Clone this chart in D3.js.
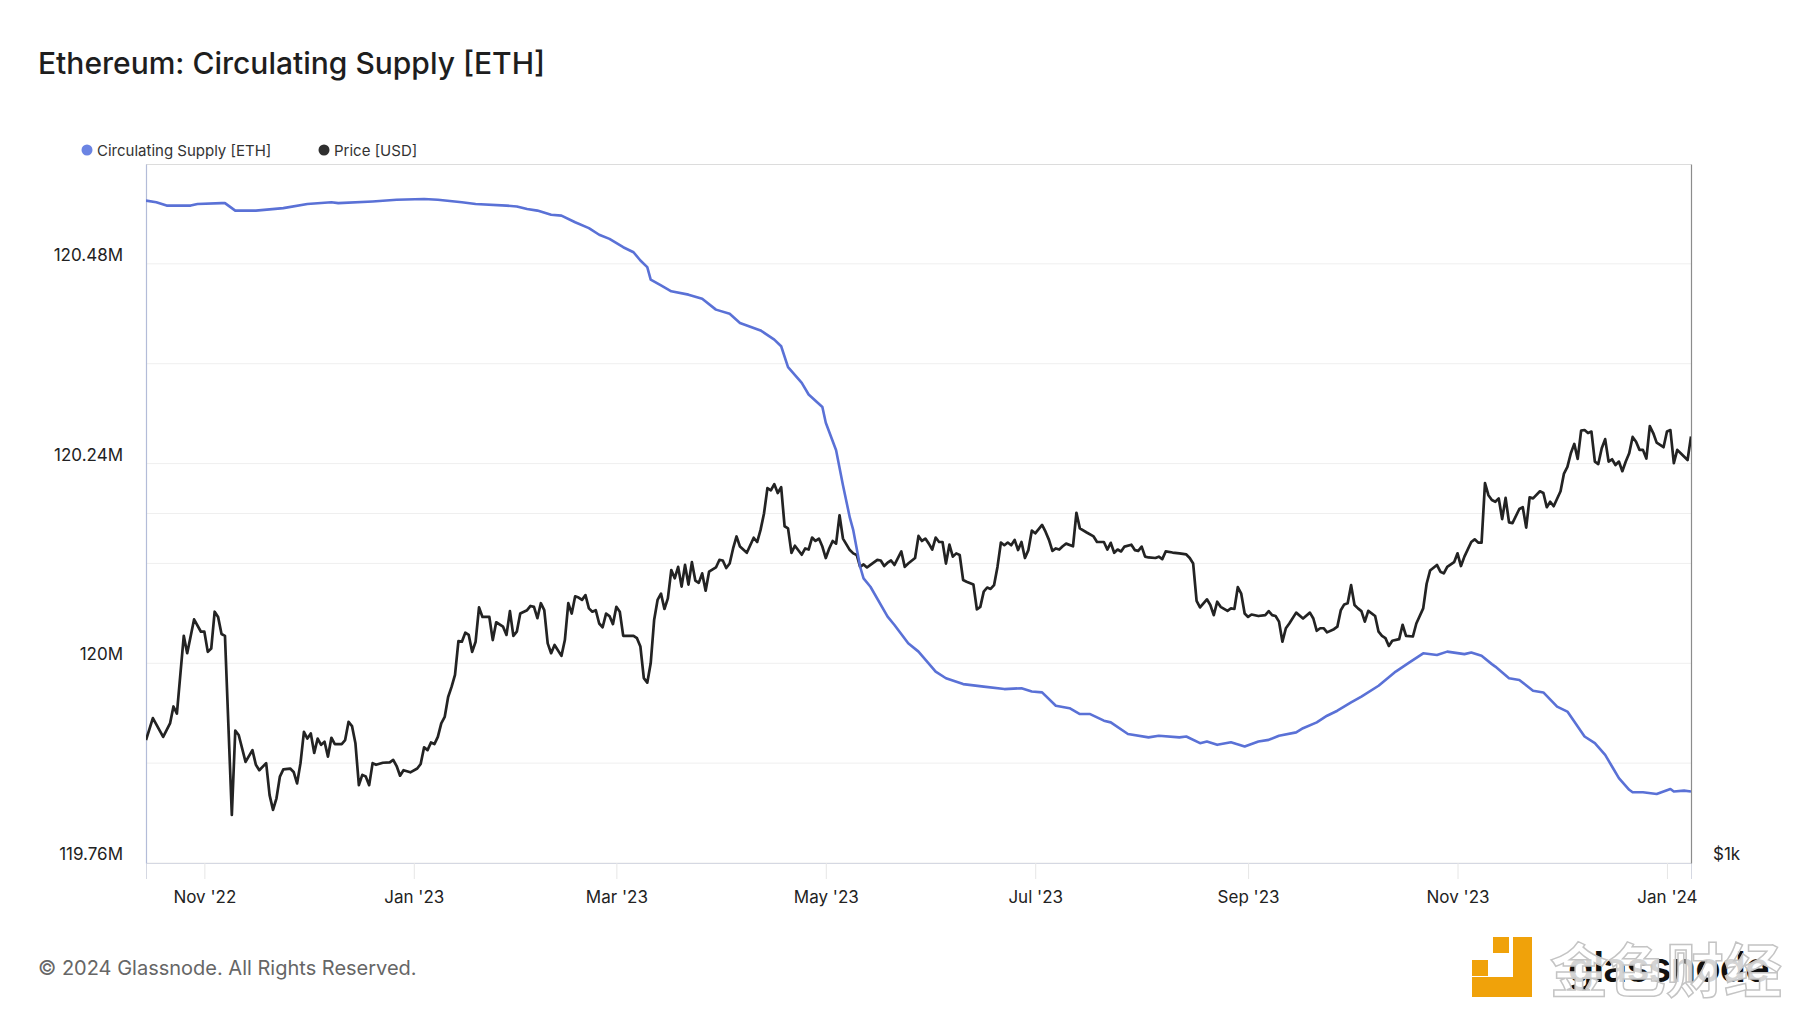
<!DOCTYPE html>
<html>
<head>
<meta charset="utf-8">
<script src="https://cdn.jsdelivr.net/npm/d3@7"></script>
<style>
  html, body { margin: 0; padding: 0; background: #fff; }
  svg { display: block; font-family: Inter, "Noto Sans", sans-serif; }
</style>
</head>
<body>
<svg id="chart" width="1800" height="1013"></svg>
<script>
// ---------------- DATA ----------------
const chartTitle = "Ethereum: Circulating Supply [ETH]";
const seriesNames = ["Circulating Supply [ETH]", "Price [USD]"];
const startDate = "2022-10-15";   // day 0 of the series
const endDate = "2024-01-08";

// [day since startDate, circulating supply in millions of ETH]
const supplySeries = [
  [0,120.556],[3,120.554],[6,120.550],[13,120.550],[15,120.552],[22,120.553],[23,120.553],[26,120.544],
  [32,120.544],[40,120.547],[47,120.552],[54,120.554],[56,120.553],[66,120.555],[73,120.557],[81,120.558],
  [85,120.557],[92,120.554],[96,120.552],[105,120.550],[108,120.549],[111,120.546],[114,120.544],[118,120.539],
  [121,120.538],[125,120.530],[129,120.523],[132,120.515],[135,120.510],[139,120.500],[142,120.494],[144,120.484],
  [146,120.476],[147,120.461],[150,120.454],[153,120.447],[158,120.443],[162,120.438],[166,120.425],[170,120.420],
  [173,120.409],[179,120.400],[183,120.389],[185,120.381],[187,120.356],[191,120.337],[193,120.323],[197,120.308],
  [198,120.289],[201,120.256],[203,120.214],[205,120.175],[206,120.160],[208,120.116],[209,120.102],[211,120.092],
  [216,120.056],[218,120.046],[222,120.024],[225,120.014],[230,119.990],[233,119.982],[238,119.975],[244,119.972],
  [250,119.969],[255,119.970],[258,119.966],[261,119.965],[265,119.949],[269,119.946],[272,119.939],[275,119.939],
  [279,119.931],[281,119.929],[286,119.915],[292,119.911],[295,119.913],[301,119.911],[303,119.912],[307,119.904],
  [309,119.906],[312,119.902],[316,119.905],[320,119.900],[324,119.906],[327,119.908],[330,119.913],[335,119.917],
  [337,119.922],[341,119.929],[344,119.937],[347,119.943],[351,119.953],[354,119.960],[359,119.973],[364,119.990],
  [368,120.001],[372,120.012],[376,120.010],[379,120.014],[384,120.011],[386,120.013],[389,120.009],[392,119.999],
  [393,119.996],[397,119.982],[400,119.980],[404,119.967],[407,119.965],[411,119.948],[414,119.942],[417,119.924],
  [419,119.912],[422,119.904],[425,119.890],[427,119.876],[429,119.862],[432,119.848],[433,119.845],[436,119.845],
  [440,119.843],[444,119.849],[445,119.846],[448,119.847],[450,119.846]
];

// [day since startDate, ETH price in USD]
const priceSeries = [
  [0,1276],[2,1333],[5,1284],[7,1319],[8,1364],[9,1345],[11,1569],[12,1516],[14,1621],[16,1582],[17,1582],
  [18,1520],[19,1530],[20,1646],[21,1629],[22,1575],[23,1569],[25,1100],[26,1300],[27,1289],[29,1222],[31,1251],
  [32,1215],[33,1202],[35,1219],[36,1144],[37,1111],[38,1137],[39,1187],[40,1204],[42,1206],[43,1198],[44,1171],
  [45,1219],[46,1297],[47,1280],[48,1293],[49,1244],[50,1280],[51,1264],[52,1272],[53,1235],[54,1282],[55,1266],
  [57,1266],[58,1276],[59,1323],[60,1312],[61,1268],[62,1167],[63,1191],[64,1187],[65,1167],[66,1219],[67,1215],
  [69,1220],[71,1221],[72,1227],[73,1212],[74,1189],[75,1202],[77,1197],[79,1206],[80,1217],[81,1258],[82,1251],
  [83,1270],[84,1266],[85,1284],[86,1319],[87,1336],[88,1390],[89,1418],[90,1452],[91,1553],[92,1551],[93,1579],
  [94,1572],[95,1520],[96,1551],[97,1660],[98,1629],[100,1629],[101,1556],[102,1612],[104,1598],[105,1572],
  [106,1648],[107,1569],[108,1582],[109,1640],[111,1651],[112,1665],[113,1662],[114,1625],[115,1674],[116,1651],
  [117,1546],[118,1516],[119,1541],[121,1508],[122,1556],[123,1674],[124,1640],[125,1697],[126,1693],[127,1685],
  [128,1701],[129,1657],[130,1646],[131,1651],[132,1608],[133,1596],[134,1640],[135,1632],[136,1606],[137,1662],
  [138,1646],[139,1569],[142,1569],[143,1562],[144,1536],[145,1443],[146,1430],[147,1486],[148,1619],[149,1685],
  [150,1706],[151,1655],[152,1690],[153,1788],[154,1759],[155,1799],[156,1730],[157,1806],[158,1737],[159,1816],
  [160,1751],[161,1743],[162,1776],[163,1716],[164,1782],[166,1797],[167,1824],[168,1822],[169,1795],[170,1811],
  [171,1866],[172,1911],[173,1873],[175,1850],[177,1906],[178,1890],[179,1936],[180,2000],[181,2103],[182,2094],
  [183,2120],[184,2083],[185,2107],[186,1950],[187,1942],[188,1850],[189,1876],[191,1843],[192,1866],[193,1862],
  [194,1907],[195,1894],[196,1903],[197,1873],[198,1831],[199,1866],[200,1894],[201,1884],[202,1993],[203,1903],
  [205,1860],[206,1848],[207,1842],[208,1799],[209,1808],[210,1797],[211,1806],[213,1824],[214,1822],[215,1802],
  [216,1814],[217,1822],[218,1806],[220,1855],[221,1799],[222,1811],[224,1831],[225,1913],[226,1894],[227,1903],
  [228,1884],[229,1862],[230,1907],[231,1890],[232,1890],[233,1811],[234,1880],[235,1836],[236,1848],[237,1842],
  [238,1753],[239,1747],[241,1737],[242,1654],[243,1662],[244,1713],[245,1727],[246,1722],[247,1735],[248,1799],
  [249,1888],[250,1878],[251,1888],[252,1878],[253,1898],[254,1860],[255,1890],[256,1831],[257,1860],[258,1933],
  [259,1923],[261,1955],[262,1929],[263,1898],[264,1857],[265,1866],[266,1862],[267,1874],[268,1884],[270,1874],
  [271,2003],[272,1942],[274,1926],[276,1911],[277,1890],[279,1890],[280,1862],[281,1887],[282,1850],[283,1862],
  [284,1855],[285,1873],[287,1880],[288,1860],[289,1857],[290,1873],[291,1836],[292,1833],[294,1831],[295,1836],
  [296,1827],[297,1855],[299,1851],[301,1848],[303,1844],[304,1831],[305,1811],[306,1682],[307,1660],[309,1687],
  [310,1668],[311,1635],[312,1679],[313,1662],[315,1649],[316,1657],[317,1655],[318,1728],[319,1706],[320,1640],
  [321,1629],[322,1637],[324,1632],[326,1635],[327,1648],[328,1635],[329,1632],[330,1614],[331,1551],[332,1593],
  [333,1608],[335,1643],[337,1624],[339,1643],[340,1624],[341,1585],[342,1593],[343,1593],[344,1580],[346,1590],
  [347,1598],[348,1651],[349,1670],[350,1674],[351,1735],[352,1668],[353,1657],[354,1648],[355,1614],[356,1649],
  [358,1632],[359,1582],[360,1569],[361,1562],[362,1538],[363,1554],[365,1559],[366,1604],[367,1569],[369,1567],
  [370,1608],[372,1657],[373,1740],[374,1786],[376,1806],[377,1782],[378,1776],[379,1799],[381,1816],[382,1848],
  [383,1802],[384,1836],[386,1890],[387,1900],[388,1888],[389,1888],[390,2124],[391,2074],[392,2054],[393,2047],
  [394,2061],[395,1978],[396,2063],[397,1965],[398,1962],[400,2018],[401,2025],[402,1945],[403,2065],[404,2061],
  [406,2090],[407,2083],[408,2025],[409,2047],[410,2029],[412,2090],[413,2165],[414,2194],[415,2254],[416,2296],
  [417,2229],[418,2357],[419,2360],[420,2346],[421,2353],[422,2217],[423,2206],[424,2276],[425,2318],[426,2217],
  [427,2227],[428,2202],[429,2217],[430,2175],[431,2217],[432,2254],[433,2328],[434,2306],[435,2269],[436,2269],
  [437,2230],[438,2378],[439,2346],[440,2302],[441,2292],[442,2281],[443,2353],[444,2360],[445,2210],[446,2269],
  [447,2254],[449,2224],[450,2330]
];

const supplyTicks = [119.76, 119.88, 120.00, 120.12, 120.24, 120.36, 120.48, 120.60];
const supplyLabelTicks = [119.76, 120.00, 120.24, 120.48];
const priceTicks = [1000, 2000];
const priceLabelTicks = [1000];
const footerText = "© 2024 Glassnode. All Rights Reserved.";

// ---------------- CHART ----------------
const svg = d3.select("#chart");
const M = { left: 146, right: 1691, top: 164, bottom: 863 };
const parse = d3.utcParse("%Y-%m-%d");
const t0 = parse(startDate), t1 = parse(endDate);
const toDate = d => d3.utcDay.offset(t0, d);

const x = d3.scaleUtc().domain([t0, t1]).range([M.left, M.right]);
const yS = d3.scaleLinear().domain([119.76, 120.60]).range([M.bottom, M.top]);
const yP = d3.scaleLog().domain([1000, 4000]).range([M.bottom, M.top]);

// gridlines
const grid = svg.append("g");
grid.selectAll("line.gs").data(supplyTicks.filter(v => v < 120.59)).join("line")
  .attr("x1", M.left).attr("x2", M.right)
  .attr("y1", d => yS(d)).attr("y2", d => yS(d))
  .attr("stroke", "#efefef").attr("stroke-width", 1);
grid.selectAll("line.gp").data(priceTicks.filter(v => v > 1000)).join("line")
  .attr("x1", M.left).attr("x2", M.right)
  .attr("y1", d => yP(d)).attr("y2", d => yP(d))
  .attr("stroke", "#efefef").attr("stroke-width", 1);
// top border
svg.append("line").attr("x1", M.left).attr("x2", M.right).attr("y1", M.top + 0.5).attr("y2", M.top + 0.5)
  .attr("stroke", "#dcdcdc");

// x axis
const xAxis = d3.axisBottom(x)
  .tickValues(d3.utcMonth.range(parse("2022-11-01"), t1, 2))
  .tickFormat(d3.utcFormat("%b '%y"))
  .tickSize(16).tickPadding(12);
const gx = svg.append("g").attr("transform", `translate(0,${M.bottom})`).call(xAxis);
gx.select(".domain").attr("stroke", "#d5d8e2");
gx.selectAll(".tick line").attr("stroke", "#e6e6e6");
gx.selectAll(".tick text").attr("fill", "#222").attr("font-size", 17).attr("font-family", "Inter, sans-serif");

// left axis
const yAxisL = d3.axisLeft(yS).tickValues(supplyLabelTicks)
  .tickFormat(d => (+d.toFixed(2)) + "M").tickSize(0).tickPadding(23);
const gyl = svg.append("g").attr("transform", `translate(${M.left},0)`).call(yAxisL);
gyl.select(".domain").attr("stroke", "#b3bcd8").attr("stroke-width", 1.2);
gyl.selectAll(".tick text").attr("fill", "#222").attr("font-size", 17).attr("font-family", "Inter, sans-serif")
  .attr("dy", "-0.2em");

// right axis
const yAxisR = d3.axisRight(yP).tickValues(priceLabelTicks)
  .tickFormat(d => "$" + d3.format("~s")(d)).tickSize(0).tickPadding(22);
const gyr = svg.append("g").attr("transform", `translate(${M.right},0)`).call(yAxisR);
gyr.select(".domain").attr("stroke", "#8c8c8c").attr("stroke-width", 1.2);
gyr.selectAll(".tick text").attr("fill", "#222").attr("font-size", 17).attr("font-family", "Inter, sans-serif")
  .attr("dy", "-0.2em");

// lines
svg.append("clipPath").attr("id", "clip").append("rect")
  .attr("x", M.left).attr("y", M.top).attr("width", M.right - M.left).attr("height", M.bottom - M.top);

const lineS = d3.line().x(d => x(toDate(d[0]))).y(d => yS(d[1]));
const lineP = d3.line().x(d => x(toDate(d[0]))).y(d => yP(d[1]));

svg.append("path").datum(priceSeries).attr("d", lineP)
  .attr("fill", "none").attr("stroke", "#232323").attr("stroke-width", 2.7)
  .attr("stroke-linejoin", "round").attr("clip-path", "url(#clip)");
svg.append("path").datum(supplySeries).attr("d", lineS)
  .attr("fill", "none").attr("stroke", "#5a71d6").attr("stroke-width", 2.6)
  .attr("stroke-linejoin", "round").attr("clip-path", "url(#clip)");

// title
svg.append("text").attr("x", 38).attr("y", 74).text(chartTitle)
  .attr("font-size", 30).attr("font-weight", 500).attr("fill", "#1e1e1e");

// legend
const legendColors = ["#6b84e3", "#2f2f2f"];
const legendX = [87, 324];
const lg = svg.append("g");
seriesNames.forEach((n, i) => {
  lg.append("circle").attr("cx", legendX[i]).attr("cy", 150).attr("r", 5.5).attr("fill", legendColors[i]);
  lg.append("text").attr("x", legendX[i] + 10).attr("y", 155.5).text(n)
    .attr("font-size", 15).attr("fill", "#333");
});

// footer
svg.append("text").attr("x", 38).attr("y", 975).text(footerText)
  .attr("font-size", 20).attr("fill", "#666");

// watermark / logo
const wm = svg.append("g");
const orange = "#f0a20a";
wm.append("rect").attr("x", 1513).attr("y", 937).attr("width", 19).attr("height", 60).attr("fill", orange);
wm.append("rect").attr("x", 1472).attr("y", 977).attr("width", 60).attr("height", 20).attr("fill", orange);
wm.append("rect").attr("x", 1493).attr("y", 937).attr("width", 16).attr("height", 16).attr("fill", orange);
wm.append("rect").attr("x", 1472).attr("y", 960).attr("width", 16).attr("height", 16).attr("fill", orange);
wm.append("text").attr("x", 1568).attr("y", 982).text("glassnode")
  .attr("font-size", 42).attr("font-weight", 600).attr("fill", "#111").attr("letter-spacing", -1);
wm.append("text").attr("x", 1550).attr("y", 992).text("金色财经")
  .attr("font-family", "'Noto Sans CJK SC', sans-serif").attr("font-weight", 700)
  .attr("font-size", 58).attr("fill", "rgba(255,255,255,0.82)").attr("stroke", "#c4c4c4").attr("stroke-width", 1.5);
</script>
</body>
</html>
